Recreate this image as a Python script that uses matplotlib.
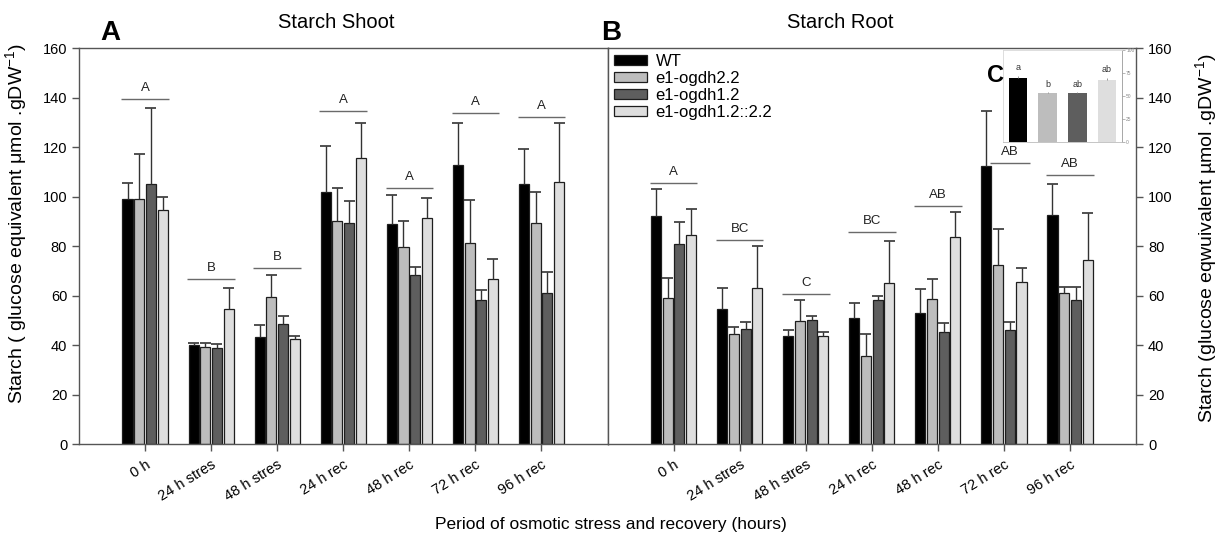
import matplotlib
matplotlib.use("Agg")
import matplotlib.pyplot as plt
import numpy as np

plt.rcParams['font.family'] = ['Liberation Sans', 'DejaVu Sans']
plt.rcParams['mathtext.fontset'] = 'custom'
plt.rcParams['mathtext.rm'] = 'Liberation Sans'
plt.rcParams['mathtext.it'] = 'Liberation Sans:italic'
plt.rcParams['mathtext.bf'] = 'Liberation Sans:bold'

# ---- data -------------------------------------------------------------
periods = ["0 h", "24 h stres", "48 h stres", "24 h rec", "48 h rec", "72 h rec", "96 h rec"]
genotypes = ["WT", "e1-ogdh2.2", "e1-ogdh1.2", "e1-ogdh1.2::2.2"]

# Shoot starch (glucose equivalent umol/gDW), mean and SE per genotype
shoot_wt = [99.0, 40.0, 43.2, 101.9, 88.8, 112.9, 105.0]
shoot_wt_err = [6.3, 0.9, 4.9, 18.6, 11.9, 16.8, 14.3]
shoot_22 = [99.0, 39.3, 59.4, 90.1, 79.7, 81.3, 89.4]
shoot_22_err = [18.2, 1.7, 9.0, 13.3, 10.3, 17.3, 12.3]
shoot_12 = [105.0, 38.7, 48.5, 89.2, 68.1, 58.0, 60.9]
shoot_12_err = [30.6, 1.6, 3.4, 9.1, 3.3, 4.4, 8.5]
shoot_1222 = [94.5, 54.4, 42.3, 115.6, 91.2, 66.5, 106.0]
shoot_1222_err = [5.2, 8.5, 1.3, 14.0, 8.2, 8.1, 23.7]

# Root starch
root_wt = [92.1, 54.5, 43.6, 51.0, 52.8, 112.5, 92.4]
root_wt_err = [10.9, 8.4, 2.3, 5.8, 10.0, 22.2, 12.6]
root_22 = [59.1, 44.4, 49.7, 35.7, 58.7, 72.5, 60.9]
root_22_err = [8.1, 2.9, 8.3, 8.6, 8.1, 14.4, 2.7]
root_12 = [80.7, 46.6, 50.0, 58.2, 45.3, 46.1, 58.1]
root_12_err = [8.9, 2.6, 1.6, 1.7, 3.5, 3.1, 5.5]
root_1222 = [84.4, 62.9, 43.5, 64.9, 83.5, 65.5, 74.5]
root_1222_err = [10.4, 17.0, 1.8, 17.1, 10.1, 5.6, 18.7]

# Tukey groups per period and height of the bracket line
shoot_letters = ["A", "B", "B", "A", "A", "A", "A"]
shoot_letter_y = [139.4, 66.5, 71.1, 134.7, 103.4, 133.9, 132.2]
root_letters = ["A", "BC", "C", "BC", "AB", "AB", "AB"]
root_letter_y = [105.5, 82.5, 60.6, 85.7, 96.0, 113.7, 108.8]

# Overall genotype means (inset C)
inset_values = [70, 53, 53, 67]
inset_err = [2, 1, 1, 3]
inset_letters = ["a", "b", "ab", "ab"]
inset_ticks = [0, 25, 50, 75, 100]

colors = ["#000000", "#bdbdbd", "#5e5e5e", "#dedede"]
edge = "#1e1e1e"
axis_grey = "#555555"

# ---- figure -----------------------------------------------------------
fig = plt.figure(figsize=(12.19, 5.42), dpi=100)
ax_l = fig.add_axes([0.0648, 0.1808, 0.4336, 0.7306])
ax_r = fig.add_axes([0.4984, 0.1808, 0.4336, 0.7306])

x = np.arange(1, len(periods) + 1)
step = 0.177
width = 0.152
offsets = (np.arange(4) - 1.5) * step


def draw_panel(ax, series, errors, letters, letter_y, spans):
    for i, (vals, errs) in enumerate(zip(series, errors)):
        vals = np.asarray(vals)
        errs = np.asarray(errs)
        xs = x + offsets[i]
        ax.bar(xs, vals, width, color=colors[i], edgecolor=edge,
               linewidth=0.9, label=genotypes[i], zorder=2)
        ax.vlines(xs, vals, vals + errs, color="#333333", lw=1.0, zorder=3)
        ax.hlines(vals + errs, xs - 0.083, xs + 0.083, color="#333333",
                  lw=1.2, zorder=3)
    for k, (lab, yv) in enumerate(zip(letters, letter_y)):
        lo, hi = spans[k]
        ax.hlines(yv, x[k] + lo, x[k] + hi, color="#6a6a6a", lw=1.0, zorder=3)
        ax.text(x[k] + (lo + hi) / 2, yv + 2.0, lab, ha="center", va="bottom",
                fontsize=9.5, color="#222222")
    ax.set_xlim(0, 8)
    ax.set_ylim(0, 160)
    ax.set_yticks(np.arange(0, 161, 20))
    ax.set_xticks(x)
    ax.set_xticklabels(periods, rotation=32, ha="right",
                       rotation_mode="anchor", fontsize=10.5)
    for s in ax.spines.values():
        s.set_color(axis_grey)
        s.set_linewidth(1.0)
    ax.tick_params(direction="out", length=5, width=1, color=axis_grey,
                   labelsize=10.5)
    ax.tick_params(axis="x", pad=5)


default_span = (-0.36, 0.36)
shoot_spans = [default_span] * 7
root_spans = [default_span] * 7
root_spans[5] = (-0.21, 0.39)

draw_panel(ax_l, [shoot_wt, shoot_22, shoot_12, shoot_1222],
           [shoot_wt_err, shoot_22_err, shoot_12_err, shoot_1222_err],
           shoot_letters, shoot_letter_y, shoot_spans)
draw_panel(ax_r, [root_wt, root_22, root_12, root_1222],
           [root_wt_err, root_22_err, root_12_err, root_1222_err],
           root_letters, root_letter_y, root_spans)

ax_l.set_ylabel("Starch ( glucose equivalent \u03bcmol .gDW$^{-1}$)", fontsize=14)
ax_l.yaxis.set_label_coords(-0.094, 0.557)
ax_r.yaxis.tick_right()
ax_r.yaxis.set_label_position("right")
ax_r.set_ylabel("Starch (glucose eqwuivalent \u00b5mol .gDW$^{-1}$)", fontsize=14)
ax_r.yaxis.set_label_coords(1.108, 0.52)

ax_r.legend(loc="upper left", bbox_to_anchor=(0.012, 0.985), frameon=False,
            fontsize=12, handlelength=2.0, handleheight=0.5,
            labelspacing=0.12, handletextpad=0.5, borderpad=0.0,
            borderaxespad=0.0)

fig.text(336 / 1219, 1 - 22 / 542, "Starch Shoot", ha="center", va="center",
         fontsize=14.5)
fig.text(840 / 1219, 1 - 22 / 542, "Starch Root", ha="center", va="center",
         fontsize=14.5)
fig.text(110 / 1219, 1 - 33 / 542, "A", ha="center", va="center",
         fontsize=20, fontweight="bold")
fig.text(611 / 1219, 1 - 33 / 542, "B", ha="center", va="center",
         fontsize=20, fontweight="bold")
fig.text(611 / 1219, 1 - 525 / 542, "Period of osmotic stress and recovery (hours)",
         ha="center", va="center", fontsize=12.5)

# ---- inset C ----------------------------------------------------------
ax_in = fig.add_axes([1003 / 1219, 1 - 142 / 542, 119 / 1219, 92 / 542])
xi = np.arange(len(inset_values))
ax_in.bar(xi, inset_values, 0.62, color=colors, edgecolor="none", zorder=2)
iv = np.asarray(inset_values)
ie = np.asarray(inset_err)
ax_in.vlines(xi, iv, iv + ie, color="#888888", lw=0.6, zorder=3)
for k, lab in enumerate(inset_letters):
    ax_in.text(xi[k], iv[k] + ie[k] + 4, lab, ha="center", va="bottom",
               fontsize=6.5, color="#333333")
ax_in.set_xlim(-0.5, 3.5)
ax_in.set_ylim(0, 100)
ax_in.set_xticks([])
ax_in.yaxis.tick_right()
ax_in.set_yticks(inset_ticks)
ax_in.tick_params(axis="y", direction="out", length=2, width=0.5,
                  color="#999999", labelsize=3.5, labelcolor="#888888", pad=1)
for name, s in ax_in.spines.items():
    s.set_linewidth(0.6)
    s.set_color("#d8d8d8")
ax_in.spines["bottom"].set_color("#bbbbbb")
ax_in.spines["right"].set_color("#999999")
fig.text(996 / 1219, 1 - 75 / 542, "C", ha="center", va="center",
         fontsize=17, fontweight="bold")

fig.savefig("out.png", dpi=100)
